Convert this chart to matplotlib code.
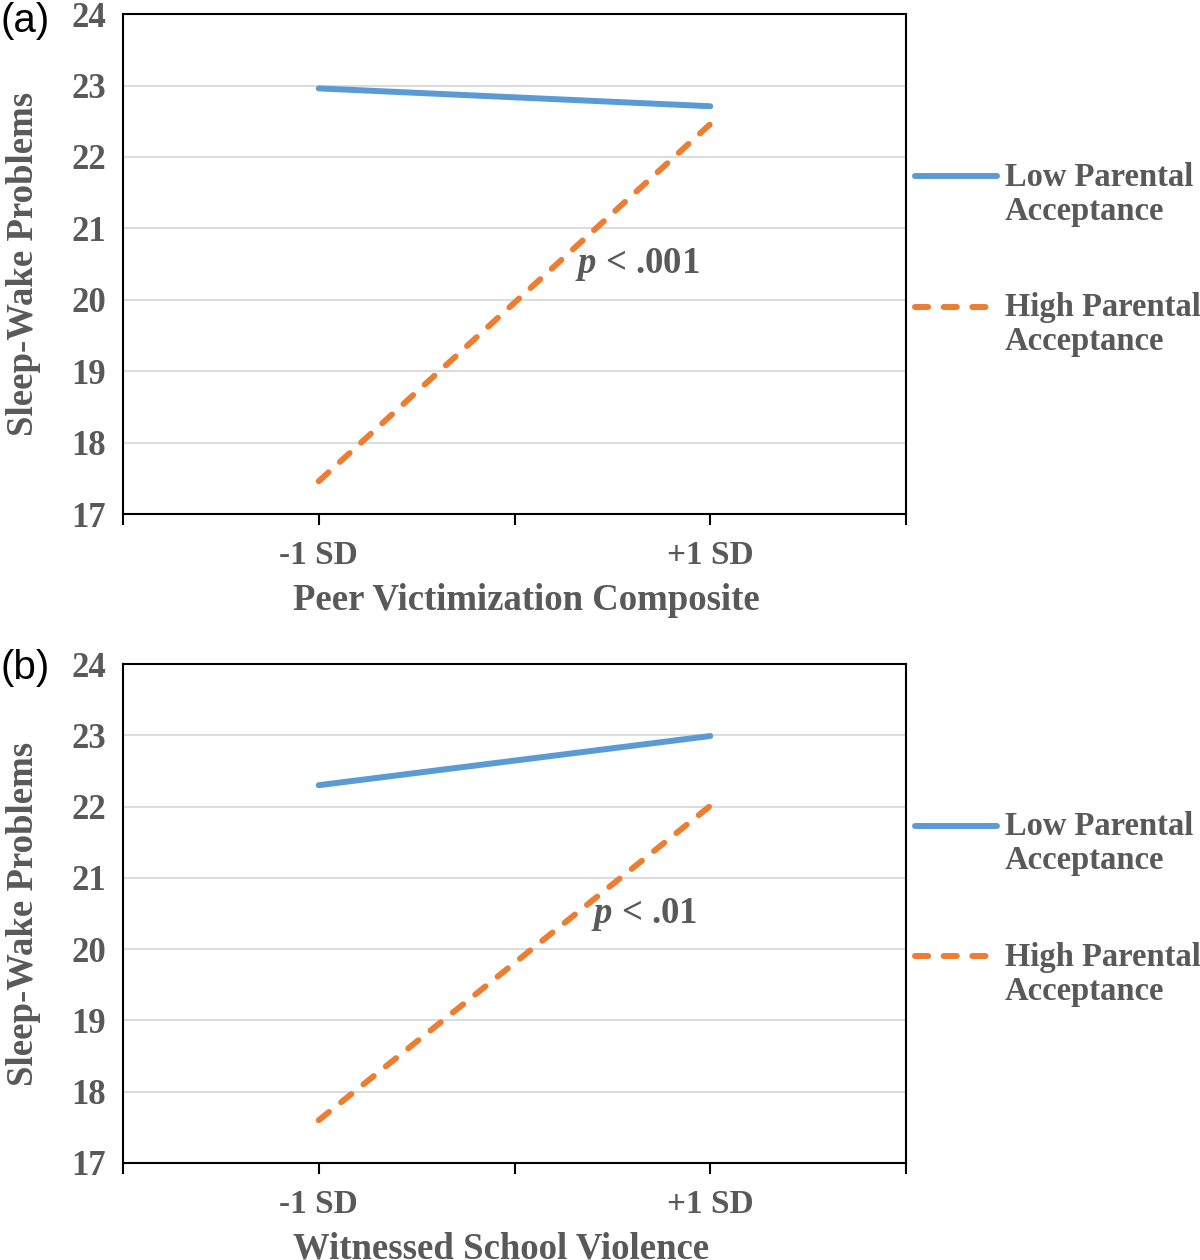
import matplotlib
matplotlib.use('Agg')
import matplotlib.pyplot as plt
from matplotlib.legend_handler import HandlerLine2D

plt.rcParams['mathtext.fontset'] = 'custom'
plt.rcParams['mathtext.it'] = 'Liberation Serif:italic:bold'
plt.rcParams['mathtext.rm'] = 'Liberation Serif:bold'

# data
sd_labels = ['-1 SD', '+1 SD']
series_names = ['Low Parental\nAcceptance', 'High Parental\nAcceptance']

low_a = [22.96, 22.71]
high_a = [17.46, 22.46]
low_b = [22.30, 22.99]
high_b = [17.60, 22.01]

xlabels = ['Peer Victimization Composite', 'Witnessed School Violence']
p_texts = ['$p$ < .001', '$p$ < .01']
p_pos = [(2.31, 20.5), (2.39, 20.48)]
panel_tags = ['(a)', '(b)']

gray = '#595959'
blue = '#5B9BD5'
orange = '#ED7D31'
serif = 'Liberation Serif'
LS = 1.13  # legend line spacing


class UpHandler(HandlerLine2D):
    # put the legend line next to the first text line
    def create_artists(self, legend, orig_handle, xdescent, ydescent,
                       width, height, fontsize, trans):
        return super().create_artists(legend, orig_handle, xdescent,
                                      ydescent - LS * fontsize, width,
                                      height, fontsize, trans)


fig = plt.figure(figsize=(12, 12.6), dpi=100)
ax_a = fig.add_axes([0.1025, 0.592, 0.6525, 0.3968])
ax_b = fig.add_axes([0.1025, 0.077, 0.6525, 0.396])

panels = [(ax_a, low_a, high_a), (ax_b, low_b, high_b)]
xs = [1, 3]
tag_y = [0.986, 0.992]
xlabel_x = [0.515, 0.483]

for i, (ax, low, high) in enumerate(panels):
    l1, = ax.plot(xs, low, color=blue, lw=4.3, solid_capstyle='round',
                  label=series_names[0], zorder=3)
    l2, = ax.plot(xs, high, color=orange, lw=4.3, dashes=(2.2, 2.6),
                  dash_capstyle='round', label=series_names[1], zorder=3)
    ax.set_xlim(0, 4)
    ax.set_ylim(17, 24)
    ax.set_yticks(range(17, 25))
    ax.set_xticks([0, 1, 2, 3, 4])
    ax.set_xticklabels(['', sd_labels[0], '', sd_labels[1], ''])
    ax.grid(axis='y', color='#d9d9d9', lw=1.3)
    ax.set_axisbelow(True)
    for s in ax.spines.values():
        s.set_linewidth(1.5)
        s.set_color('black')
    ax.tick_params(axis='y', length=0, pad=12, labelsize=25, labelcolor=gray)
    ax.tick_params(axis='x', length=8, width=1.5, direction='out', pad=11,
                   labelsize=24, labelcolor=gray)
    for lab in ax.get_xticklabels() + ax.get_yticklabels():
        lab.set_fontfamily(serif)
        lab.set_fontweight('bold')
    ax.set_xlabel(xlabels[i], fontsize=26.5, fontfamily=serif,
                  fontweight='bold', color=gray, labelpad=8)
    ax.xaxis.label.set_x(xlabel_x[i])
    ax.set_ylabel('Sleep-Wake Problems', fontsize=26.5, fontfamily=serif,
                  fontweight='bold', color=gray)
    ax.yaxis.set_label_coords(-0.105, 0.5)
    ax.text(p_pos[i][0], p_pos[i][1], p_texts[i], fontsize=26.5,
            fontfamily=serif, fontweight='bold', color=gray,
            va='center', ha='left')
    ax.text(-0.157, tag_y[i], panel_tags[i], transform=ax.transAxes,
            fontsize=29, fontfamily='Liberation Sans', color='black',
            va='center', ha='left')
    leg = ax.legend(handles=[l1, l2], loc='upper left',
                    bbox_to_anchor=(1.0115, 0.705), frameon=False,
                    borderpad=0, borderaxespad=0, handlelength=2.5,
                    handletextpad=0.25, labelspacing=2.0,
                    prop={'family': serif, 'weight': 'bold', 'size': 23.5},
                    handler_map={l1: UpHandler(), l2: UpHandler()})
    for t in leg.get_texts():
        t.set_color(gray)
        t.set_linespacing(LS)

fig.savefig('out.png', dpi=100)
